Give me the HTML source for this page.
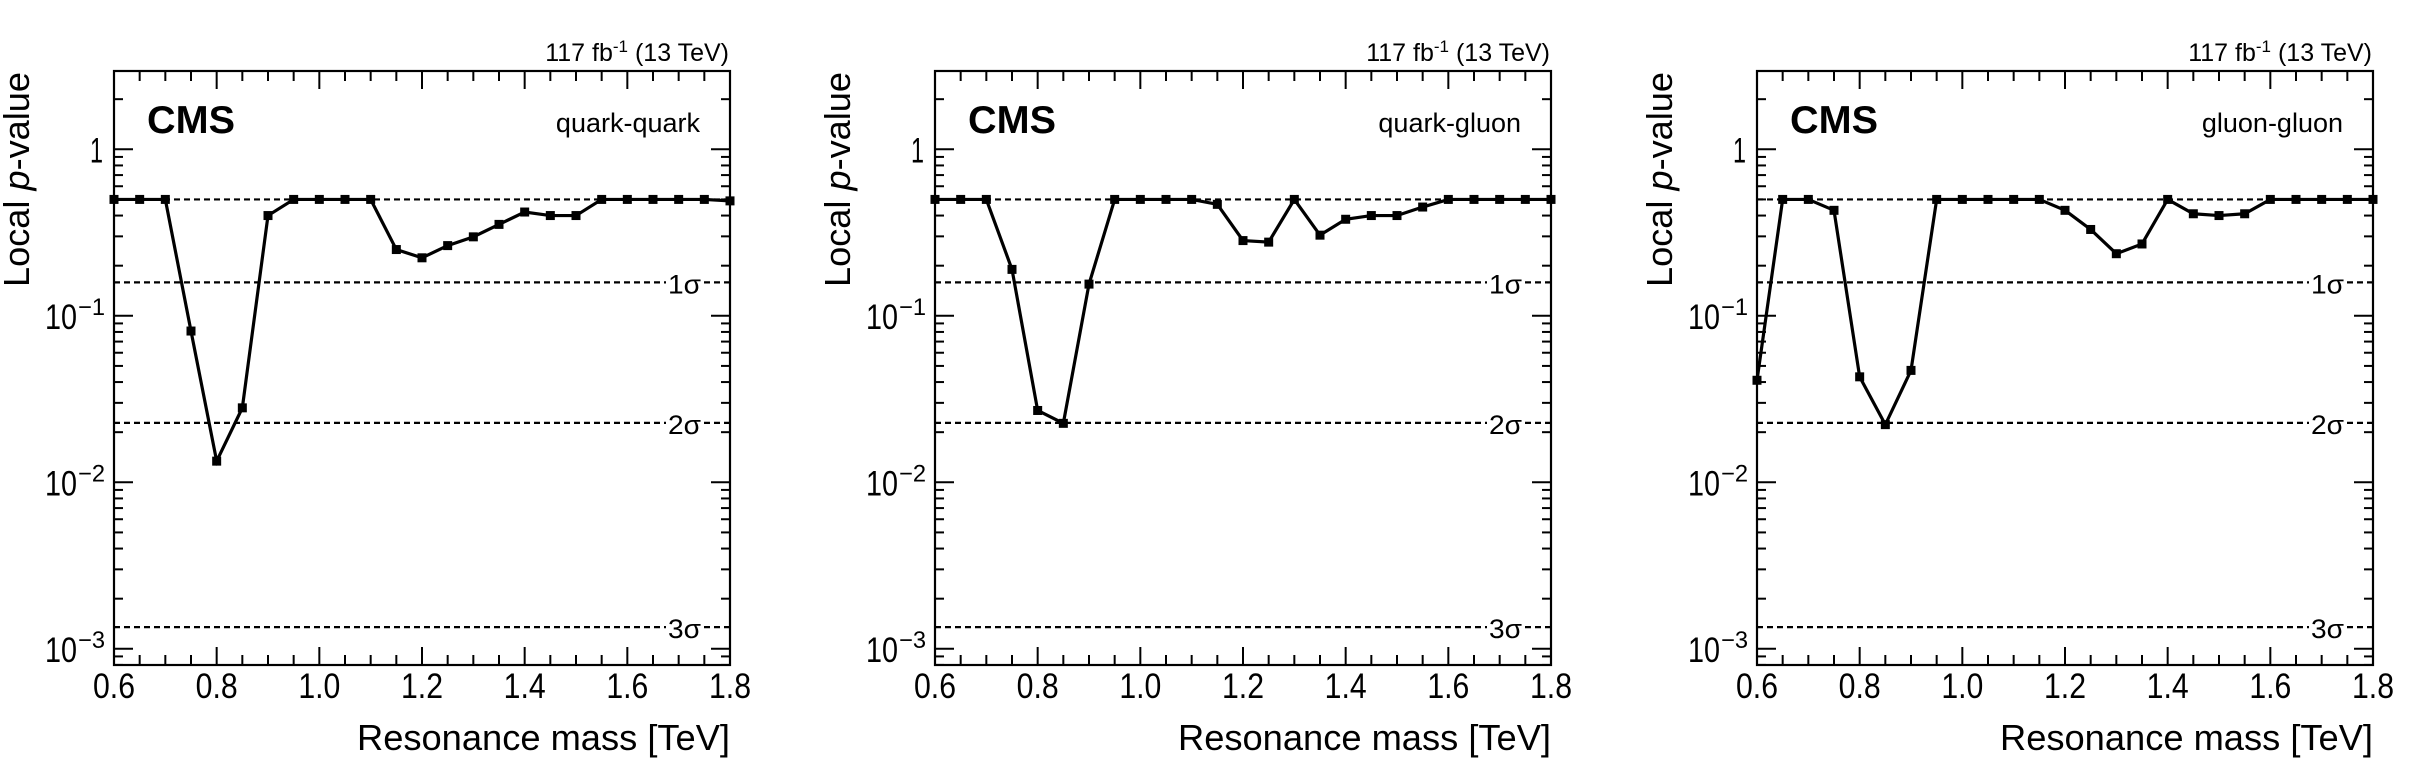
<!DOCTYPE html>
<html><head><meta charset="utf-8"><style>
html,body{margin:0;padding:0;background:#fff;}
svg{display:block;font-family:"Liberation Sans",sans-serif;}
</style></head><body>
<svg id="fig" width="2427" height="782" viewBox="0 0 2427 782" xmlns="http://www.w3.org/2000/svg"></svg>
<script>
const masses = [0.6,0.65,0.7,0.75,0.8,0.85,0.9,0.95,1.0,1.05,1.1,1.15,1.2,1.25,1.3,1.35,1.4,1.45,1.5,1.55,1.6,1.65,1.7,1.75,1.8];
const pQQ = [0.5,0.5,0.5,0.081,0.0134,0.028,0.40,0.5,0.5,0.5,0.5,0.25,0.223,0.264,0.298,0.354,0.42,0.40,0.40,0.5,0.5,0.5,0.5,0.5,0.49];
const pQG = [0.5,0.5,0.5,0.19,0.027,0.0226,0.155,0.5,0.5,0.5,0.5,0.467,0.283,0.277,0.5,0.305,0.38,0.40,0.40,0.45,0.5,0.5,0.5,0.5,0.5];
const pGG = [0.041,0.5,0.5,0.43,0.043,0.0222,0.047,0.5,0.5,0.5,0.5,0.5,0.43,0.33,0.236,0.27,0.5,0.41,0.40,0.41,0.5,0.5,0.5,0.5,0.5];
const panelLabels = ["quark-quark","quark-gluon","gluon-gluon"];
const panelNames = ["quark-quark","quark-gluon","gluon-gluon"];
const xTickLabels = ["0.6","0.8","1.0","1.2","1.4","1.6","1.8"];
const sigmaValues = [0.5,0.1587,0.02275,0.00135];
const sigmaLabels = ["","1σ","2σ","3σ"];
const yDecades = [0,-1,-2,-3];

const NS="http://www.w3.org/2000/svg";
const fig=document.getElementById('fig');
function mk(tag,attrs,parent){const e=document.createElementNS(NS,tag);for(const k in attrs)e.setAttribute(k,attrs[k]);(parent||fig).appendChild(e);return e;}

const L=114,R=730,T=71,B=665;
const XMIN=0.6,XMAX=1.8;
const Y1=149.3, DEC=166.5;
function xs(v){return L+(v-XMIN)/(XMAX-XMIN)*(R-L);}
function ys(p){return Y1-Math.log10(p)*DEC;}
const series=[pQQ,pQG,pGG];
const offsets=[0,821,1643];

for(let pi=0;pi<3;pi++){
  const g=mk('g',{transform:`translate(${offsets[pi]},0)`});
  
  
  sigmaValues.forEach((s,i)=>{
    const y=ys(s);
    const ln=mk('line',{x1:L,x2:R,y1:y,y2:y,stroke:'#000','stroke-width':2.2,'stroke-dasharray':'6,4'},g);
    
    
    if(sigmaLabels[i]){
      mk('rect',{x:666,y:y-12,width:38,height:26,fill:'#fff'},g);
      const t=mk('text',{x:701,y:y+11,'font-size':27,'text-anchor':'end',textLength:33,lengthAdjust:'spacingAndGlyphs'},g);
      t.textContent=sigmaLabels[i];
      
      
    }
  });
  const fr=mk('rect',{x:L,y:T,width:R-L,height:B-T,fill:'none',stroke:'#000','stroke-width':2.2},g);
  
  
  for(let k=0;k<=24;k++){
    const v=XMIN+k*0.05, x=xs(v), major=(k%4===0), len=major?18:10;
    mk('line',{x1:x,x2:x,y1:B,y2:B-len,stroke:'#000','stroke-width':2},g);
    mk('line',{x1:x,x2:x,y1:T,y2:T+len,stroke:'#000','stroke-width':2},g);
  }
  xTickLabels.forEach((lab,i)=>{
    const t=mk('text',{x:xs(parseFloat(lab)),y:698,'font-size':35,'text-anchor':'middle',textLength:42,lengthAdjust:'spacingAndGlyphs'},g);
    t.textContent=lab;
    
    
  });
  for(let d=-4;d<=0;d++){
    for(let m=1;m<=9;m++){
      const p=m*Math.pow(10,d), y=ys(p);
      if(y<T||y>B) continue;
      const len=m===1?19:9;
      mk('line',{x1:L,x2:L+len,y1:y,y2:y,stroke:'#000','stroke-width':2},g);
      mk('line',{x1:R,x2:R-len,y1:y,y2:y,stroke:'#000','stroke-width':2},g);
    }
  }
  yDecades.forEach(d=>{
    const y=ys(Math.pow(10,d));
    const t=mk('text',{x:d===0?103:77,y:y+13,'font-size':35,'text-anchor':'end',textLength:d===0?13:32,lengthAdjust:'spacingAndGlyphs'},g);
    t.textContent=d===0?'1':'10';
    
    
    if(d!==0){
      const s=mk('text',{x:78,y:y-1,'font-size':24,'text-anchor':'start',textLength:27,lengthAdjust:'spacingAndGlyphs'},g);
      s.textContent='−'+(-d);
      
      
    }
  });
  const data=series[pi];
  const pts=masses.map((m,i)=>xs(m)+','+ys(data[i])).join(' ');
  const pl=mk('polyline',{points:pts,fill:'none',stroke:'#000','stroke-width':3.2,'stroke-linejoin':'miter'},g);
  
  
  masses.forEach((m,i)=>{
    const r=mk('rect',{x:xs(m)-4.5,y:ys(data[i])-4.5,width:9,height:9,fill:'#000'},g);
    
    
  });
  const cms=mk('text',{x:147,y:133,'font-size':39,'font-weight':'bold',textLength:88,lengthAdjust:'spacingAndGlyphs'},g);
  cms.textContent='CMS';
  
  
  const pl2=mk('text',{x:700,y:132,'font-size':27,'text-anchor':'end'},g);
  pl2.textContent=panelLabels[pi];
  
  
  const lumi=mk('text',{x:729,y:61,'font-size':25,'text-anchor':'end'},g);
  lumi.innerHTML='117 fb<tspan dy="-9" font-size="17">-1</tspan><tspan dy="9"> (13 TeV)</tspan>';
  
  
  const xt=mk('text',{x:730,y:750,'font-size':36,'text-anchor':'end',textLength:373,lengthAdjust:'spacingAndGlyphs'},g);
  xt.textContent='Resonance mass [TeV]';
  
  
  const yt=mk('text',{x:0,y:0,'font-size':36,'text-anchor':'end',transform:'translate(29,72) rotate(-90)',textLength:215,lengthAdjust:'spacingAndGlyphs'},g);
  yt.innerHTML='Local <tspan font-style="italic">p</tspan>-value';
  
  
}
</script>
</body></html>
